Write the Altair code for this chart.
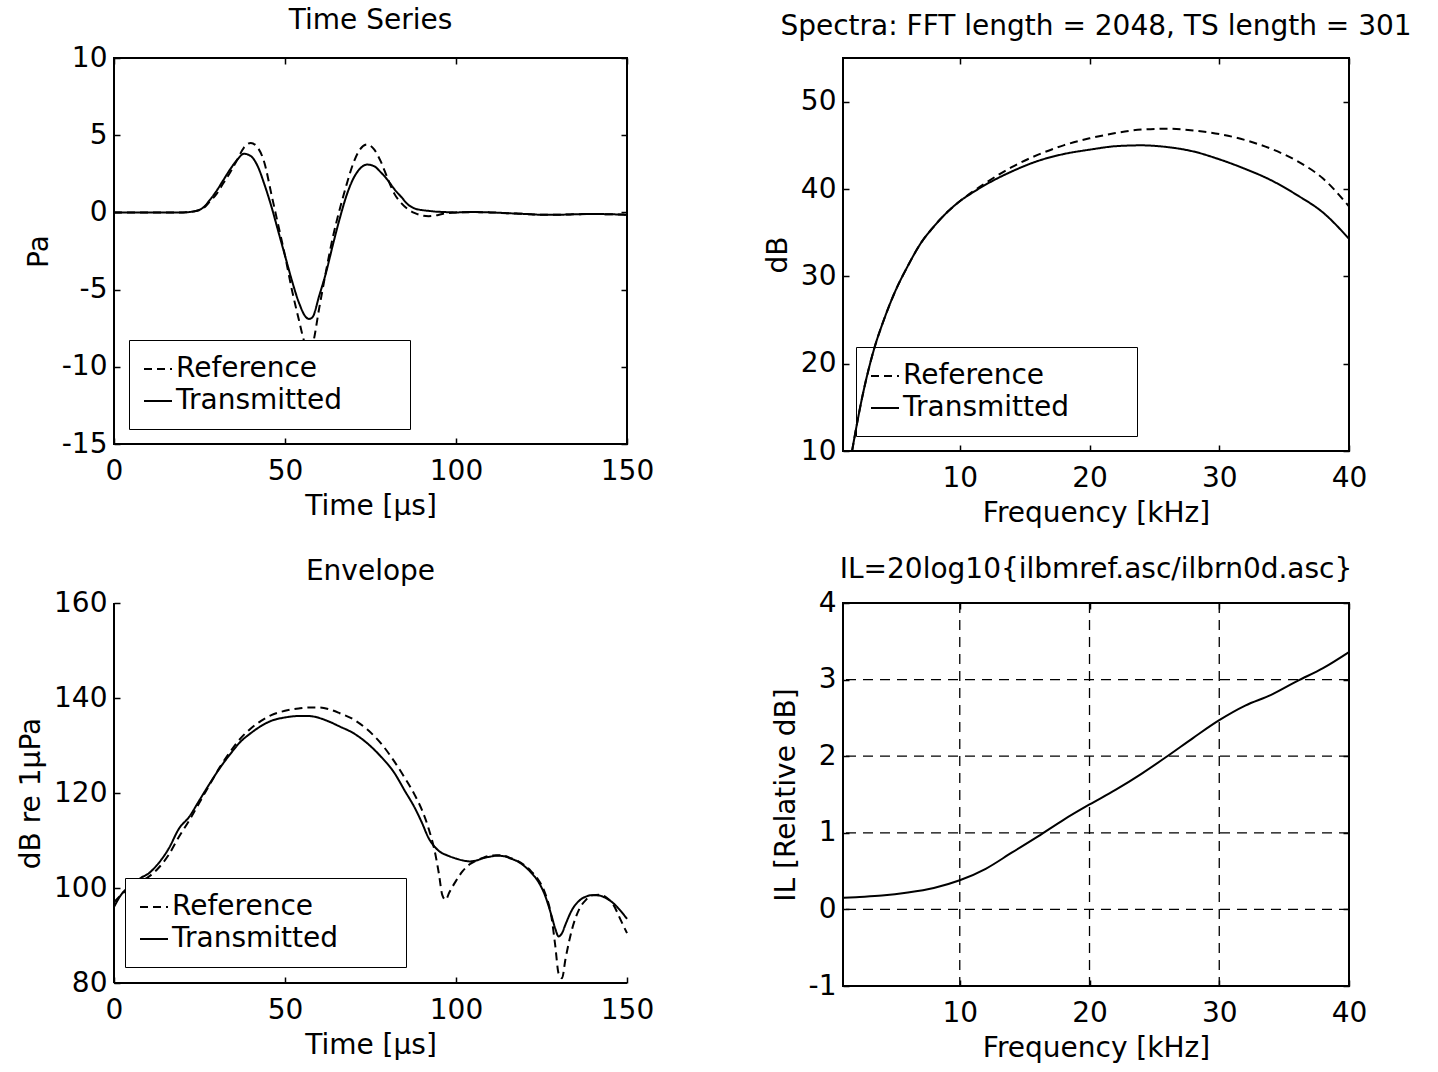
import altair as alt
import pandas as pd

FONT = "DejaVu Sans"
FS = 28
SERIES = ["Reference", "Transmitted"]
PAD_LABEL = "\u00a0" * 6 + "\u200b"

# ---------------- Time series (top-left) ----------------
ts_time = [0, 5, 10, 15, 20, 23, 26, 28, 30, 32, 34, 36, 38, 40, 42, 44, 46, 48, 50, 52, 54, 56, 57, 58,
           60, 62, 64, 66, 68, 70, 72, 74, 76, 78, 80, 82, 84, 86, 88, 90, 92, 94, 96, 100, 105, 110,
           115, 120, 125, 130, 135, 140, 145, 150]
ts_reference = [0, 0, 0, 0, 0, 0.05, 0.25, 0.7, 1.2, 1.9, 2.6, 3.4, 4.2, 4.5, 4.2, 3.2, 1.2, -0.8, -2.8,
                 -5.0, -6.9, -8.6, -8.9, -8.6, -6.2, -3.8, -1.6, 0.2, 1.8, 3.2, 4.1, 4.4, 4.1, 3.3, 2.2,
                 1.2, 0.6, 0.2, -0.05, -0.2, -0.25, -0.2, -0.1, 0, 0.02, 0, -0.05, -0.1, -0.15, -0.15,
                 -0.12, -0.1, -0.12, -0.15]
ts_transmitted = [0, 0, 0, 0, 0, 0.05, 0.3, 0.8, 1.4, 2.1, 2.8, 3.4, 3.8, 3.65, 3.0, 1.8, 0.4, -1.2, -2.8,
                  -4.4, -5.8, -6.75, -6.9, -6.8, -5.4, -3.9, -2.1, -0.4, 1.1, 2.2, 2.85, 3.1, 3.0, 2.6,
                  2.1, 1.5, 1.0, 0.5, 0.25, 0.15, 0.1, 0.05, 0.03, 0, 0.02, 0, -0.05, -0.1, -0.15, -0.15,
                  -0.12, -0.1, -0.12, -0.15]
ts_x_ticks = [0, 50, 100, 150]
ts_y_ticks = [-15, -10, -5, 0, 5, 10]

# ---------------- Spectra (top-right) ----------------
spec_freq = [1.7, 2.0, 2.5, 3.0, 3.5, 4, 5, 6, 7, 8, 9, 10, 11, 12, 14, 16, 18, 20, 22, 24, 26, 28, 30,
             32, 34, 36, 38, 40]
spec_reference = [10, 12.5, 16.3, 19.5, 22.2, 24.4, 28.2, 31.2, 33.8, 35.7, 37.3, 38.6, 39.7, 40.7, 42.5,
                  43.9, 45.0, 45.8, 46.4, 46.8, 46.9, 46.7, 46.3, 45.6, 44.6, 43.2, 41.2, 38.0]
spec_transmitted = [10, 12.5, 16.3, 19.5, 22.2, 24.4, 28.2, 31.2, 33.8, 35.7, 37.3, 38.6, 39.6, 40.5, 42.0,
                    43.2, 44.0, 44.5, 44.9, 45.0, 44.8, 44.3, 43.4, 42.3, 41.0, 39.3, 37.3, 34.3]
spec_x_ticks = [10, 20, 30, 40]
spec_y_ticks = [10, 20, 30, 40, 50]

# ---------------- Envelope (bottom-left) ----------------
env_time = [0, 2, 5, 8, 10, 13, 16, 19, 22, 25, 28, 31, 34, 37, 40, 43, 46, 50, 54, 57, 60, 63, 66, 70,
            74, 78, 82, 85, 88, 90, 92, 94, 95, 96, 97, 98, 100, 102, 104, 106, 108, 110, 112, 114, 116,
            118, 120, 122, 124, 126, 128, 129, 130, 131, 132, 134, 136, 138, 140, 142, 144, 146, 148, 150]
env_reference = [97, 98.5, 100.3, 101.5, 102.3, 104.2, 107.0, 110.8, 114.2, 118.0, 121.8, 125.5, 128.7,
                 131.5, 133.6, 135.2, 136.4, 137.3, 137.8, 138.0, 138.0, 137.6, 136.8, 135.5, 133.4,
                 130.5, 126.6, 123.2, 119.5, 116.5, 112.5, 107, 103, 98.5, 97.5, 99, 101.5, 103.6, 105.0,
                 105.8, 106.4, 106.8, 106.9, 106.8, 106.3, 105.7, 104.8, 103.5, 101.8, 99, 93.5, 88, 82,
                 81, 85, 91.5, 95.5, 97.5, 98.5, 98.6, 98, 96.5, 93.5, 90.5]
env_transmitted = [96, 98.5, 100.6, 102.2, 103.0, 105.2, 108.3, 112.5, 115, 118.5, 122, 125.3, 128.2,
                   130.8, 132.6, 134.1, 135.2, 135.9, 136.2, 136.2, 135.8, 135.0, 134.0, 132.6, 130.5,
                   127.7, 124.2, 120.5, 116.8, 113.8, 110.5, 108.5, 107.8, 107.3, 107, 106.7, 106.2,
                   105.8, 105.6, 105.8, 106.3, 106.6, 106.8, 106.7, 106.2, 105.6, 104.6, 103.2, 101.4,
                   98.5, 94, 91.5, 89.8, 90.5, 92.3, 95.5, 97.3, 98.2, 98.5, 98.4, 97.8, 96.8, 95.3, 93.5]
env_x_ticks = [0, 50, 100, 150]
env_y_ticks = [80, 100, 120, 140, 160]

# ---------------- Insertion loss (bottom-right) ----------------
il_freq = [1, 2, 4, 6, 8, 10, 12, 14, 16, 18, 20, 22, 24, 26, 28, 30, 32, 34, 36, 38, 40]
il_values = [0.15, 0.16, 0.18, 0.22, 0.28, 0.38, 0.53, 0.74, 0.95, 1.17, 1.37, 1.56, 1.77, 2.0, 2.24,
             2.47, 2.66, 2.8, 2.98, 3.15, 3.36]
il_x_ticks = [10, 20, 30, 40]
il_y_ticks = [-1, 0, 1, 2, 3, 4]
il_x_grid = [10, 20, 30]
il_y_grid = [0, 1, 2, 3]

MINUS_FIX = "replace(datum.label, '\u2212', '-')"


def long_df(xs, ref, tr):
    return pd.DataFrame({
        "x": list(xs) + list(xs),
        "y": list(ref) + list(tr),
        "series": [SERIES[0]] * len(xs) + [SERIES[1]] * len(xs),
    })


def main_axes(xvals, yvals, xtitle, ytitle):
    xa = alt.Axis(orient="bottom", values=xvals, offset=-6, tickSize=6, tickWidth=1.5, domain=False,
                  grid=False, labelPadding=13, labelFlush=False, labelOverlap=False, title=xtitle,
                  titlePadding=7)
    ya = alt.Axis(orient="left", values=yvals, offset=-6, tickSize=6, tickWidth=1.5, domain=False,
                  grid=False, labelPadding=7, labelOverlap=False, labelExpr=MINUS_FIX, title=ytitle,
                  titlePadding=8)
    return xa, ya


def frame_tick_layer(df, xs, ys, xvals, yvals):
    return alt.Chart(df).mark_line(opacity=0).encode(
        x=alt.X("x:Q", scale=xs, axis=alt.Axis(orient="top", values=xvals, offset=-6, tickSize=6,
                                               tickWidth=1.5, labels=False, domain=False, grid=False,
                                               minExtent=0, maxExtent=0, title=None)),
        y=alt.Y("y:Q", scale=ys, axis=alt.Axis(orient="right", values=yvals, offset=-6, tickSize=6,
                                               tickWidth=1.5, labels=False, domain=False, grid=False,
                                               minExtent=0, maxExtent=0, title=None)),
        detail="series:N",
    )


def make_legend(lx, ly, fill=True):
    kw = dict(orient="none", legendX=lx, legendY=ly, title=None, strokeColor="black", padding=14,
              symbolType="stroke", symbolSize=784, symbolStrokeWidth=2, symbolStrokeColor="black",
              labelFont=FONT, labelFontSize=FS, labelColor="black", labelOffset=3, rowPadding=3,
              labelLimit=500, labelExpr="datum.label + '" + PAD_LABEL + "'")
    if fill:
        kw["fillColor"] = "white"
    return alt.Legend(**kw)


dash_scale = alt.Scale(domain=SERIES, range=[[8, 5], [1, 0]])


def two_series_panel(df, xdom, ydom, xvals, yvals, xtitle, ytitle, title, title_offset, w, h, legend,
                     box=True):
    xs = alt.Scale(domain=xdom, nice=False, zero=False)
    ys = alt.Scale(domain=ydom, nice=False, zero=False)
    xa, ya = main_axes(xvals, yvals, xtitle, ytitle)
    lines = alt.Chart(df).mark_line(color="black", strokeWidth=2, interpolate="monotone").encode(
        x=alt.X("x:Q", scale=xs, axis=xa),
        y=alt.Y("y:Q", scale=ys, axis=ya),
        strokeDash=alt.StrokeDash("series:N", scale=dash_scale, legend=legend),
    )
    layers = [lines]
    if box:
        layers.append(frame_tick_layer(df, xs, ys, xvals, yvals))
    else:
        xline = alt.Chart(pd.DataFrame({"x": [xvals[0]]})).mark_rule(color="black", strokeWidth=2).encode(
            x=alt.X("x:Q", scale=xs))
        yline = alt.Chart(pd.DataFrame({"y": [yvals[0]]})).mark_rule(color="black", strokeWidth=2).encode(
            y=alt.Y("y:Q", scale=ys))
        layers += [xline, yline]
    ch = alt.layer(*layers).properties(width=w, height=h,
                                       title=alt.Title(title, offset=title_offset))
    if not box:
        ch = ch.properties(view=alt.ViewBackground(strokeOpacity=0))
    return ch


tl = two_series_panel(long_df(ts_time, ts_reference, ts_transmitted), [0, 150], [-15, 10],
                      ts_x_ticks, ts_y_ticks, "Time [\u00b5s]", "Pa", "Time Series", 9, 513, 386,
                      make_legend(15, 282))
tr = two_series_panel(long_df(spec_freq, spec_reference, spec_transmitted), [1, 40], [10, 55],
                      spec_x_ticks, spec_y_ticks, "Frequency [kHz]", "dB",
                      "Spectra: FFT length = 2048, TS length = 301", 16, 506, 393,
                      make_legend(13, 289, fill=False))
bl = two_series_panel(long_df(env_time, env_reference, env_transmitted), [0, 150], [80, 160],
                      env_x_ticks, env_y_ticks, "Time [\u00b5s]", "dB re 1\u00b5Pa", "Envelope", 3, 513, 380,
                      make_legend(11, 275), box=False)

# IL panel
il_df = pd.DataFrame({"x": il_freq, "y": il_values, "series": ["IL"] * len(il_freq)})
il_xs = alt.Scale(domain=[1, 40], nice=False, zero=False)
il_ys = alt.Scale(domain=[-1, 4], nice=False, zero=False)
il_xa, il_ya = main_axes(il_x_ticks, il_y_ticks, "Frequency [kHz]", "IL [Relative dB]")
grid_x = alt.Chart(pd.DataFrame({"x": il_x_grid})).mark_rule(
    color="black", strokeWidth=1.3, strokeDash=[10, 7]).encode(x=alt.X("x:Q", scale=il_xs, axis=None))
grid_y = alt.Chart(pd.DataFrame({"y": il_y_grid})).mark_rule(
    color="black", strokeWidth=1.3, strokeDash=[10, 7]).encode(y=alt.Y("y:Q", scale=il_ys, axis=None))
il_line = alt.Chart(il_df).mark_line(color="black", strokeWidth=2, interpolate="monotone").encode(
    x=alt.X("x:Q", scale=il_xs, axis=il_xa),
    y=alt.Y("y:Q", scale=il_ys, axis=il_ya),
)
br = alt.layer(il_line, grid_x, grid_y,
               frame_tick_layer(il_df, il_xs, il_ys, il_x_ticks, il_y_ticks)).properties(
    width=506, height=383, title=alt.Title("IL=20log10{ilbmref.asc/ilbrn0d.asc}", offset=5))

chart = alt.concat(tl, tr, bl, br, columns=2, spacing={"row": 152, "column": 216}, bounds="flush").resolve_scale(
    x="independent", y="independent", strokeDash="independent"
).resolve_legend(strokeDash="independent").properties(
    padding={"left": 17, "top": 6, "right": 5, "bottom": 5}
).configure_axis(
    labelFont=FONT, labelFontSize=FS, labelColor="black", titleFont=FONT, titleFontSize=FS,
    titleFontWeight="normal", titleColor="black", tickColor="black"
).configure_title(
    font=FONT, fontSize=FS, fontWeight="normal", color="black", anchor="middle", frame="group",
    baseline="alphabetic"
).configure_view(stroke="black", strokeWidth=2)

chart.save("out.html", embed_options={"renderer": "svg", "actions": False})
